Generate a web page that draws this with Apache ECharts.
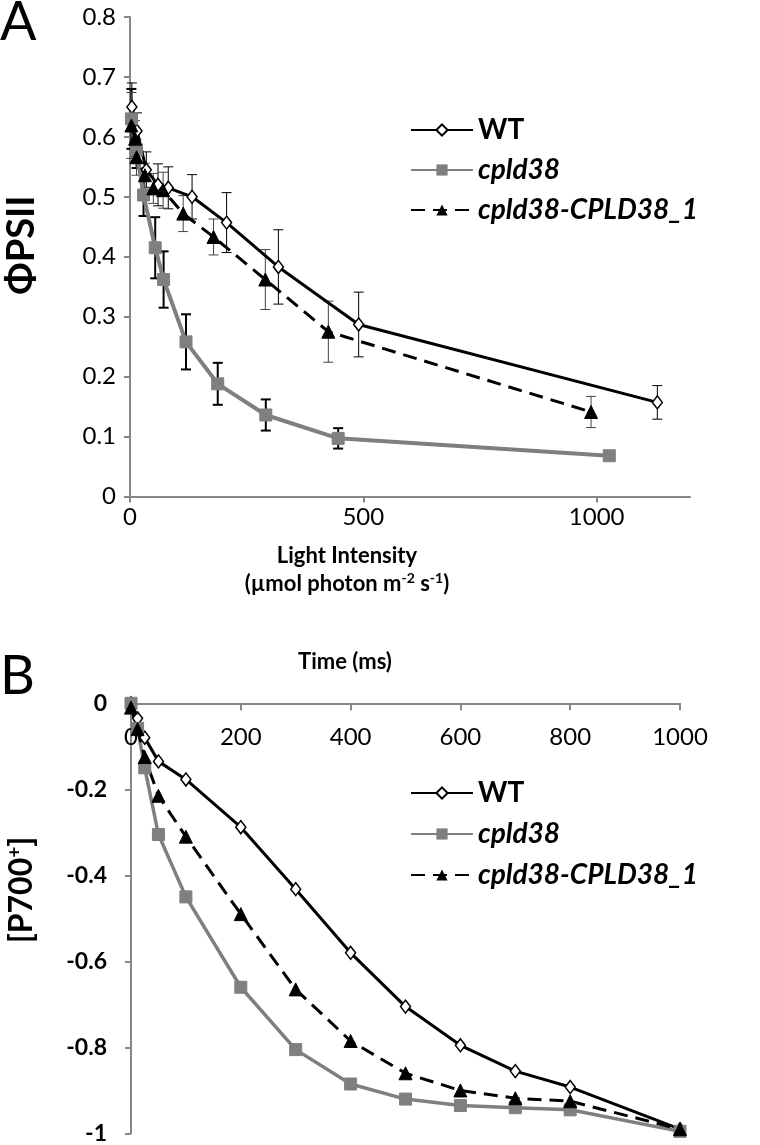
<!DOCTYPE html>
<html>
<head>
<meta charset="utf-8">
<script src="https://cdn.jsdelivr.net/npm/echarts@6/dist/echarts.min.js"></script>
<style>
html,body{margin:0;padding:0;background:#fff;}
#a{position:absolute;left:0;top:0;width:760px;height:640px;}
#b{position:absolute;left:0;top:640px;width:760px;height:505px;}
</style>
</head>
<body>
<div id="a"></div>
<div id="b"></div>
<script>
// ---------- Panel A data ----------
const SERIES_NAMES = ['WT', 'cpld38', 'cpld38-CPLD38_1'];
const A_WT_X = [4, 15, 35, 60, 82, 133, 207, 318, 490, 1130];
const A_WT_Y = [0.650, 0.610, 0.545, 0.520, 0.515, 0.500, 0.457, 0.383, 0.287, 0.157];
const A_WT_E = [0.040, 0.030, 0.030, 0.035, 0.035, 0.037, 0.050, 0.062, 0.054, 0.028];
const A_CP_X = [3, 14, 29, 54, 72, 120, 188, 291, 446, 1027];
const A_CP_Y = [0.630, 0.578, 0.503, 0.415, 0.362, 0.258, 0.188, 0.136, 0.097, 0.068];
const A_CP_E = [0.050, 0.030, 0.035, 0.051, 0.047, 0.046, 0.035, 0.026, 0.017, 0.005];
const A_TR_X = [3, 11, 14, 32, 50, 71, 114, 179, 290, 425, 988];
const A_TR_Y = [0.619, 0.597, 0.566, 0.536, 0.514, 0.511, 0.472, 0.433, 0.362, 0.275, 0.141];
const A_TR_E = [0.055, 0.030, 0.030, 0.020, 0.025, 0.030, 0.030, 0.030, 0.050, 0.051, 0.026];
const A_X_TICKS = [0, 500, 1000];

// ---------- Panel B data ----------
const B_TIME = [0, 12, 25, 50, 100, 200, 300, 400, 500, 600, 700, 800, 1000];
const B_WT = [0, -0.035, -0.080, -0.135, -0.177, -0.288, -0.432, -0.580, -0.705, -0.795, -0.855, -0.892, -0.990];
const B_CP = [0, -0.058, -0.150, -0.305, -0.450, -0.660, -0.805, -0.885, -0.920, -0.935, -0.940, -0.945, -0.995];
const B_TR = [-0.010, -0.060, -0.125, -0.215, -0.310, -0.490, -0.665, -0.785, -0.860, -0.900, -0.918, -0.925, -0.990];

const FONT = 'Lato';
const GRAY = '#7f7f7f';
const AXIS_GRAY = '#868686';

function zip(xs, ys) { return xs.map((x, i) => [x, ys[i]]); }
function zip3(xs, ys, es) { return xs.map((x, i) => [x, ys[i], es[i]]); }

function errBar(color, width) {
  return function (params, api) {
    const x = api.value(0), y = api.value(1), e = api.value(2);
    const t = api.coord([x, y + e]);
    const b = api.coord([x, y - e]);
    const w = 5;
    const st = { stroke: color, lineWidth: width };
    return {
      type: 'group',
      children: [
        { type: 'line', shape: { x1: t[0], y1: t[1], x2: b[0], y2: b[1] }, style: st },
        { type: 'line', shape: { x1: t[0] - w, y1: t[1], x2: t[0] + w, y2: t[1] }, style: st },
        { type: 'line', shape: { x1: b[0] - w, y1: b[1], x2: b[0] + w, y2: b[1] }, style: st }
      ]
    };
  };
}

const legendRich = {
  n: { fontFamily: FONT, fontWeight: 'bold', fontSize: 28, color: '#000' },
  i: { fontFamily: FONT, fontWeight: 'bold', fontStyle: 'italic', fontSize: 28, color: '#000' }
};
function legendFmt(name) { return name === 'WT' ? '{n|' + name + '}' : '{i|' + name + '}'; }

function lineSeries(name, data, kind, widths) {
  const base = { name: name, type: 'line', data: data, z: 3 };
  if (kind === 0) {
    return Object.assign(base, {
      symbol: 'diamond', symbolSize: [10, 13],
      lineStyle: { color: '#000', width: widths },
      itemStyle: { color: '#fff', borderColor: '#000', borderWidth: 1.5 }
    });
  } else if (kind === 1) {
    return Object.assign(base, {
      symbol: 'rect', symbolSize: 12,
      lineStyle: { color: GRAY, width: widths + 0.5 },
      itemStyle: { color: GRAY, borderColor: GRAY }
    });
  }
  return Object.assign(base, {
    symbol: 'triangle', symbolSize: 13,
    lineStyle: { color: '#000', width: widths, type: [14, 8] },
    itemStyle: { color: '#000', borderColor: '#000' }
  });
}

// ---------- Chart A ----------
const chartA = echarts.init(document.getElementById('a'), null, { renderer: 'canvas' });
chartA.setOption({
  animation: false,
  grid: { left: 130, right: 70, top: 17, bottom: 143.5 },
  xAxis: {
    type: 'value', min: 0, max: 1200, interval: 500,
    axisLine: { lineStyle: { color: AXIS_GRAY, width: 2 } },
    axisTick: { show: true, length: 6, lineStyle: { color: AXIS_GRAY, width: 2 }, customValues: A_X_TICKS },
    axisLabel: { fontFamily: FONT, fontSize: 24, color: '#000', margin: 9, customValues: A_X_TICKS,
      formatter: v => String(v) },
    splitLine: { show: false }
  },
  yAxis: {
    type: 'value', min: 0, max: 0.8, interval: 0.1,
    axisLine: { show: true, lineStyle: { color: AXIS_GRAY, width: 2 } },
    axisTick: { show: true, length: 6, lineStyle: { color: AXIS_GRAY, width: 2 } },
    axisLabel: { fontFamily: FONT, fontSize: 24, color: '#000', margin: 14,
      formatter: v => String(Math.round(v * 10) / 10) },
    splitLine: { show: false }
  },
  legend: {
    orient: 'vertical', left: 405, top: 110,
    itemWidth: 62, itemHeight: 14, itemGap: 10,
    data: SERIES_NAMES,
    formatter: legendFmt,
    textStyle: { rich: legendRich, lineHeight: 30 }
  },
  graphic: [
    { type: 'text', left: 0, top: -4, style: { text: 'A', fontFamily: FONT, fontSize: 54, fill: '#000' } },
    { type: 'text', x: 22, y: 245, rotation: Math.PI / 2,
      style: { text: 'ΦPSII', fontFamily: FONT, fontWeight: 'bold', fontSize: 38, fill: '#000', align: 'center', verticalAlign: 'middle' } },
    { type: 'text', x: 347, y: 556,
      style: { text: 'Light Intensity', fontFamily: FONT, fontWeight: 'bold', fontSize: 22, fill: '#000', align: 'center', verticalAlign: 'middle' } },
    { type: 'text', x: 347, y: 584,
      style: { text: '{b|(µmol photon m}{s|-2}{b| s}{s|-1}{b|)}', align: 'center', verticalAlign: 'middle',
        rich: {
          b: { fontFamily: FONT, fontWeight: 'bold', fontSize: 22, fill: '#000' },
          s: { fontFamily: FONT, fontWeight: 'bold', fontSize: 14, verticalAlign: 'top', padding: [0, 0, 12, 0], fill: '#000' }
        } } }
  ],
  series: [
    { type: 'custom', name: 'errWT', renderItem: errBar('#000', 1), data: zip3(A_WT_X, A_WT_Y, A_WT_E), z: 2, silent: true },
    { type: 'custom', name: 'errCP', renderItem: errBar('#000', 2), data: zip3(A_CP_X, A_CP_Y, A_CP_E), z: 2, silent: true },
    { type: 'custom', name: 'errTR', renderItem: errBar('#444', 1), data: zip3(A_TR_X, A_TR_Y, A_TR_E), z: 2, silent: true },
    lineSeries('WT', zip(A_WT_X, A_WT_Y), 0, 3),
    lineSeries('cpld38', zip(A_CP_X, A_CP_Y), 1, 3.5),
    lineSeries('cpld38-CPLD38_1', zip(A_TR_X, A_TR_Y), 2, 3)
  ]
});

// ---------- Chart B ----------
const chartB = echarts.init(document.getElementById('b'), null, { renderer: 'canvas' });
chartB.setOption({
  animation: false,
  grid: { left: 131, right: 80, top: 63.3, bottom: 8.2 },
  xAxis: {
    type: 'value', position: 'top', min: 0, max: 1000, interval: 200,
    axisLine: { onZero: false, lineStyle: { color: AXIS_GRAY, width: 2 } },
    axisTick: { show: true, inside: true, length: 7, lineStyle: { color: AXIS_GRAY, width: 2 } },
    axisLabel: { inside: true, fontFamily: FONT, fontSize: 24, color: '#000', margin: 22,
      formatter: v => String(v) },
    splitLine: { show: false }
  },
  yAxis: {
    type: 'value', min: -1, max: 0, interval: 0.2,
    axisLine: { show: true, lineStyle: { color: AXIS_GRAY, width: 2 } },
    axisTick: { show: true, length: 6, lineStyle: { color: AXIS_GRAY, width: 2 } },
    axisLabel: { fontFamily: FONT, fontSize: 23, fontWeight: 'bold', color: '#000', margin: 24,
      formatter: v => String(Math.round(v * 10) / 10) },
    splitLine: { show: false }
  },
  legend: {
    orient: 'vertical', left: 405, top: 133,
    itemWidth: 62, itemHeight: 14, itemGap: 11,
    data: SERIES_NAMES,
    formatter: legendFmt,
    textStyle: { rich: legendRich, lineHeight: 30 }
  },
  graphic: [
    { type: 'text', left: 0, top: 10, style: { text: 'B', fontFamily: FONT, fontSize: 54, fill: '#000' } },
    { type: 'text', x: 345, y: 22,
      style: { text: 'Time (ms)', fontFamily: FONT, fontWeight: 'bold', fontSize: 22, fill: '#000', align: 'center', verticalAlign: 'middle' } },
    { type: 'text', x: 22, y: 250, rotation: Math.PI / 2,
      style: { text: '{b|[P700}{s|+}{b|]}', align: 'center', verticalAlign: 'middle',
        rich: {
          b: { fontFamily: FONT, fontWeight: 'bold', fontSize: 32, fill: '#000' },
          s: { fontFamily: FONT, fontWeight: 'bold', fontSize: 19, verticalAlign: 'top', padding: [0, 0, 14, 0], fill: '#000' }
        } } }
  ],
  series: [
    lineSeries('WT', zip(B_TIME, B_WT), 0, 3),
    lineSeries('cpld38', zip(B_TIME, B_CP), 1, 3),
    lineSeries('cpld38-CPLD38_1', zip(B_TIME, B_TR), 2, 3)
  ]
});
</script>
</body>
</html>
